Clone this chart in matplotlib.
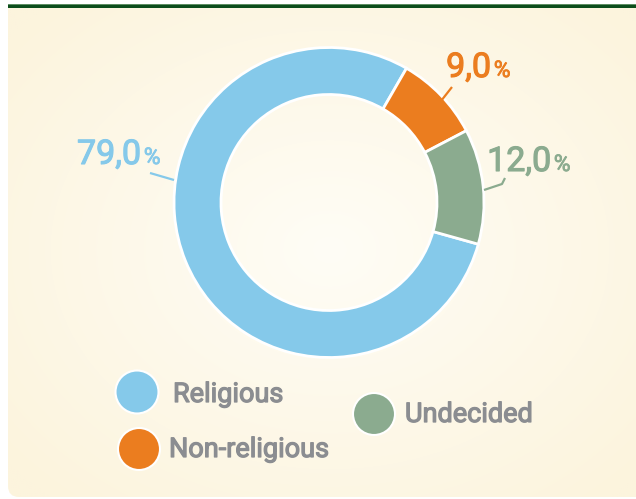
import numpy as np
import matplotlib
matplotlib.use("Agg")
import matplotlib.pyplot as plt
import matplotlib.patheffects as pe
from matplotlib.patches import FancyBboxPatch, Rectangle, Circle

# ---- data ----
categories = ["Religious", "Non-religious", "Undecided"]
values = [79.0, 9.0, 12.0]
colors = ["#85C9EA", "#EB7D1F", "#8BAB8F"]

W, H = 636, 499
def Y(y):
    return H - y

plt.rcParams['font.family'] = ['Roboto', 'DejaVu Sans']

fig = plt.figure(figsize=(W / 100, H / 100), dpi=100)
fig.patch.set_facecolor("white")
ax = fig.add_axes([0, 0, 1, 1])
ax.set_xlim(0, W)
ax.set_ylim(0, H)
ax.axis("off")

# ---- card background with soft radial gradient ----
card = FancyBboxPatch((8, Y(497)), 660, 540, boxstyle="round,pad=0,rounding_size=11",
                      facecolor="none", edgecolor="none", zorder=0)
ax.add_patch(card)
gx, gy = np.meshgrid(np.linspace(0, W, 320), np.linspace(0, H, 250))
cx, cy = 330, Y(250)
d = np.sqrt(((gx - cx) / 420) ** 2 + ((gy - cy) / 330) ** 2)
d = np.clip(d, 0, 1)
c_in = np.array([255, 253, 246]) / 255
c_out = np.array([252, 244, 221]) / 255
img = c_in[None, None, :] * (1 - d[..., None]) + c_out[None, None, :] * d[..., None]
im = ax.imshow(img, extent=(0, W, 0, H), origin="lower", zorder=0, interpolation="bilinear")
im.set_clip_path(card)
ax.add_patch(Rectangle((0, Y(4)), W, 4, facecolor="white", edgecolor="none", zorder=1))
ax.add_patch(Rectangle((8, Y(8)), W, 4, facecolor="#0D4D1C", edgecolor="none", zorder=2))
ax.add_patch(Rectangle((8, Y(5)), W, 1, facecolor="#5E8E63", edgecolor="none", zorder=2))

# ---- donut ----
cxp, cyp, R, ring = 329, 202.5, 155, 47
wedges, _ = ax.pie(values, colors=colors, startangle=-15.6, counterclock=False,
                   radius=R, center=(cxp, Y(cyp)),
                   wedgeprops=dict(width=ring, edgecolor="white", linewidth=2),
                   frame=False)
for w in wedges:
    w.set_zorder(3)
ax.set_xlim(0, W)
ax.set_ylim(0, H)
ax.set_aspect("auto")

# ---- value labels ----
label_pos = [(141, 164), (491, 77), (551, 171)]  # right edge of number, baseline
leaders = [
    [(150, 173), (174, 180)],
    [(452, 87), (441, 101)],
    [(505, 178), (502, 184), (484, 190)],
]
for v, col, (lx, ly), ld in zip(values, colors, label_pos, leaders):
    eff = [pe.withStroke(linewidth=0.8, foreground=col)]
    t = ax.text(lx, Y(ly), f"{v:.1f}".replace(".", ","), ha="right", va="baseline",
                fontsize=24.5, color=col, fontweight="normal", zorder=5,
                path_effects=eff)
    ax.annotate("%", xy=(1, Y(ly)), xycoords=(t, "data"), xytext=(2.0, 0),
                textcoords="offset points", ha="left", va="baseline",
                fontsize=16.5, color=col, fontweight="normal", zorder=5,
                path_effects=[pe.withStroke(linewidth=0.6, foreground=col)])
    xs = [p[0] for p in ld]
    ys = [Y(p[1]) for p in ld]
    ax.plot(xs, ys, color=col, lw=1.6, solid_capstyle="butt", zorder=4)

# ---- legend ----
legend_layout = [((137, 392), 21.5, (173, 402)),
                 ((139, 449), 21, (169, 457)),
                 ((374, 414), 21, (405, 422))]
for name, col, ((mx, my), r, (tx, ty)) in zip(categories, colors, legend_layout):
    ax.add_patch(Circle((mx, Y(my)), r, facecolor=col, edgecolor="white", lw=1.5, zorder=5))
    ax.text(tx, Y(ty), name, ha="left", va="baseline", fontsize=19.5,
            color="#8B8D91", fontweight="normal", zorder=5,
            path_effects=[pe.withStroke(linewidth=0.9, foreground="#8B8D91")])

fig.savefig("out.png", dpi=100, facecolor="white")
